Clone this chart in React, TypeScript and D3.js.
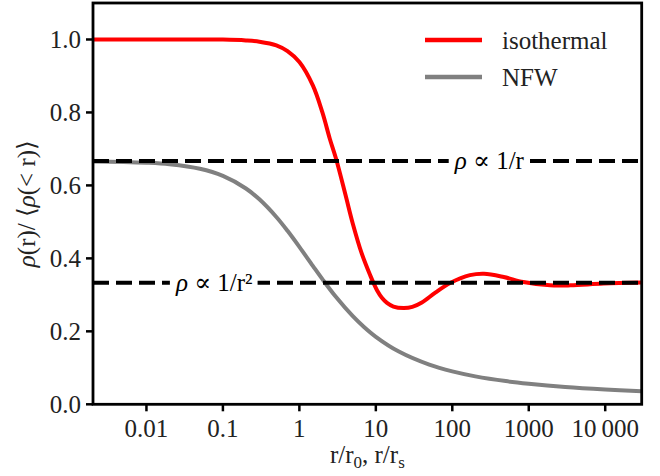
import React, { useEffect, useRef } from 'react';
import * as d3 from 'd3';

// Isothermal sphere: rho / <rho(<r)> versus r/r0
const isoX = [0.002, 0.01, 0.05, 0.1, 0.2, 0.3, 0.5, 0.7, 1, 1.5, 2, 2.5, 3, 4, 5, 6.5, 8.5, 9.4, 10.4, 12, 14, 17, 23, 30, 40, 60, 95, 170, 260, 470, 850, 1900, 3500, 9500, 30000];
const isoY = [1.0, 1.0, 1.0, 0.9997, 0.9974, 0.994, 0.984, 0.968, 0.938, 0.874, 0.800, 0.728, 0.675, 0.575, 0.495, 0.415, 0.352, 0.331, 0.312, 0.292, 0.278, 0.268, 0.264, 0.267, 0.279, 0.306, 0.333, 0.354, 0.358, 0.349, 0.335, 0.326, 0.326, 0.331, 0.334];

// NFW: rho / <rho(<r)> versus r/rs
const nfwX = [0.002, 0.005, 0.01, 0.02, 0.05, 0.1, 0.2, 0.3, 0.5, 0.7, 1, 1.5, 2, 3, 5, 7, 10, 20, 50, 100, 200, 500, 1000, 3000, 10000, 30000];
const nfwY = [0.6658, 0.6645, 0.6623, 0.6579, 0.6455, 0.6259, 0.5915, 0.5618, 0.5135, 0.4755, 0.4315, 0.3794, 0.343, 0.2947, 0.2415, 0.2119, 0.185, 0.1445, 0.1086, 0.0901, 0.0766, 0.0636, 0.0564, 0.0475, 0.0406, 0.0358];

const xTicks = [0.01, 0.1, 1, 10, 100, 1000, 10000];
const xTickLabels = ['0.01', '0.1', '1', '10', '100', '1000', '10\u2009000'];
const yTicks = [0, 0.2, 0.4, 0.6, 0.8, 1.0];
const yTickLabels = ['0.0', '0.2', '0.4', '0.6', '0.8', '1.0'];

const refLevels = [2 / 3, 1 / 3];
const refLabelRest = [' \u221D 1/r', ' \u221D 1/r\u00B2'];
const refLabelX = [305, 0.077];

const seriesNames = ['isothermal', 'NFW'];
const seriesColors = ['#ff0000', '#808080'];

const W = 660;
const H = 476;
const FONT = 'Liberation Serif, DejaVu Serif, Times New Roman, serif';

export default function App() {
  const ref = useRef<SVGSVGElement | null>(null);

  useEffect(() => {
    const svg = d3.select(ref.current);
    svg.selectAll('*').remove();

    const left = 93, right = 641.7, top = 3, bottom = 404.3;
    const x = d3.scaleLog().domain([0.002, 30000]).range([left, right]);
    const y = d3.scaleLinear().domain([0, 1.1]).range([bottom, top]);

    svg.append('defs').append('clipPath').attr('id', 'plotclip')
      .append('rect').attr('x', left).attr('y', top).attr('width', right - left).attr('height', bottom - top);

    const line = d3.line<[number, number]>()
      .x(d => x(d[0]))
      .y(d => y(d[1]))
      .curve(d3.curveCatmullRom.alpha(0.5));

    const plot = svg.append('g').attr('clip-path', 'url(#plotclip)');
    const series = [
      isoX.map((v, i) => [v, isoY[i]] as [number, number]),
      nfwX.map((v, i) => [v, nfwY[i]] as [number, number]),
    ];
    series.forEach((s, i) => {
      plot.append('path').attr('d', line(s) as string)
        .attr('fill', 'none').attr('stroke', seriesColors[i]).attr('stroke-width', 4)
        .attr('stroke-linejoin', 'round');
    });

    // reference dashed lines
    refLevels.forEach((lv, i) => {
      plot.append('line')
        .attr('x1', left).attr('x2', right).attr('y1', y(lv)).attr('y2', y(lv))
        .attr('stroke', '#000').attr('stroke-width', 4).attr('stroke-dasharray', '16,7');
      const g = svg.append('g');
      const t = g.append('text')
        .attr('x', x(refLabelX[i])).attr('y', y(lv) + 8)
        .attr('text-anchor', 'middle').style('font-family', FONT).attr('font-size', 25)
        .attr('fill', '#000');
      t.append('tspan').attr('font-style', 'italic').text('\u03C1');
      t.append('tspan').text(refLabelRest[i]);
      const bb = (t.node() as SVGTextElement).getBBox();
      g.insert('rect', 'text')
        .attr('x', bb.x - 5).attr('y', y(lv) - 4).attr('width', bb.width + 10).attr('height', 8)
        .attr('fill', '#fff');
    });

    // frame
    svg.append('rect').attr('x', left).attr('y', top).attr('width', right - left).attr('height', bottom - top)
      .attr('fill', 'none').attr('stroke', '#000').attr('stroke-width', 2.8);

    // x ticks
    xTicks.forEach((t, i) => {
      svg.append('line').attr('x1', x(t)).attr('x2', x(t)).attr('y1', bottom).attr('y2', bottom + 7)
        .attr('stroke', '#000').attr('stroke-width', 2.5);
      svg.append('text').attr('x', x(t)).attr('y', 437)
        .attr('text-anchor', 'middle').style('font-family', FONT).attr('font-size', 25).attr('fill', '#222')
        .text(xTickLabels[i]);
    });
    // y ticks
    yTicks.forEach((t, i) => {
      svg.append('line').attr('x1', left - 7).attr('x2', left).attr('y1', y(t)).attr('y2', y(t))
        .attr('stroke', '#000').attr('stroke-width', 2.5);
      svg.append('text').attr('x', 81).attr('y', y(t) + 8.5)
        .attr('text-anchor', 'end').style('font-family', FONT).attr('font-size', 25).attr('fill', '#222')
        .text(yTickLabels[i]);
    });

    // x label
    const xl = svg.append('text').attr('x', (left + right) / 2).attr('y', 463)
      .attr('text-anchor', 'middle').style('font-family', FONT).attr('font-size', 25).attr('fill', '#222');
    xl.append('tspan').text('r/r');
    xl.append('tspan').attr('font-size', 17).attr('dy', 5).text('0');
    xl.append('tspan').attr('dy', -5).text(', r/r');
    xl.append('tspan').attr('font-size', 17).attr('dy', 5).text('s');

    // y label
    const yl = svg.append('text')
      .attr('transform', `translate(35,${(top + bottom) / 2}) rotate(-90)`)
      .attr('text-anchor', 'middle').style('font-family', FONT).attr('font-size', 25).attr('fill', '#222');
    yl.append('tspan').attr('font-style', 'italic').text('\u03C1');
    yl.append('tspan').text('(r)/ \u27E8');
    yl.append('tspan').attr('font-style', 'italic').text('\u03C1');
    yl.append('tspan').text('(< r)\u27E9');

    // legend
    const legY = [40, 77];
    seriesNames.forEach((n, i) => {
      svg.append('line').attr('x1', 425).attr('x2', 482).attr('y1', legY[i]).attr('y2', legY[i])
        .attr('stroke', seriesColors[i]).attr('stroke-width', 4.5);
      svg.append('text').attr('x', 502).attr('y', legY[i] + 9)
        .style('font-family', FONT).attr('font-size', 25).attr('fill', '#222').text(n);
    });
  }, []);

  return (
    <svg ref={ref} width={W} height={H}
      style={{ position: 'absolute', left: 0, top: 0, display: 'block', background: '#fff' }} />
  );
}
